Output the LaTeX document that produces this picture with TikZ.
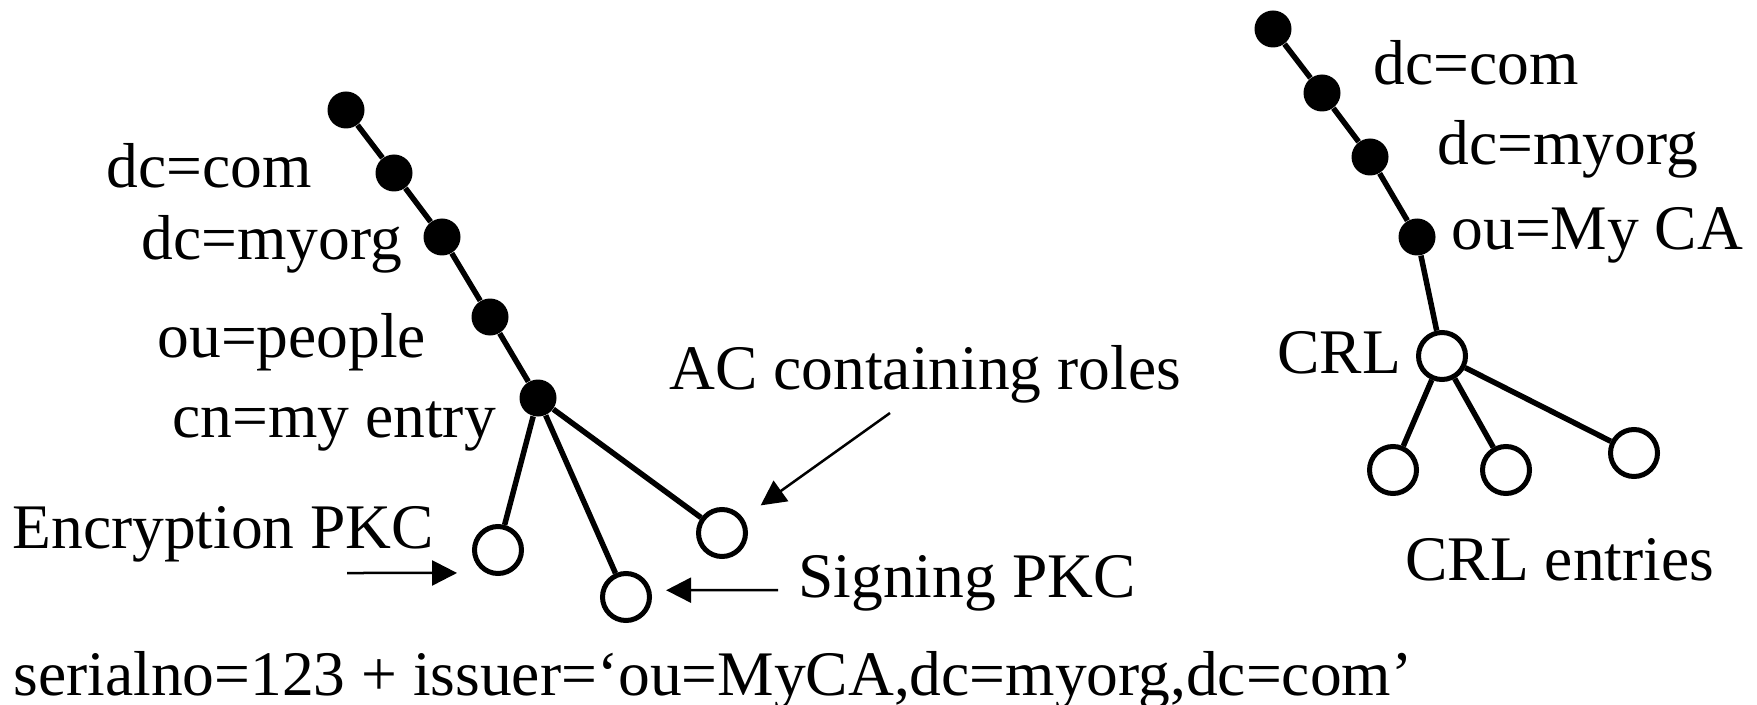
\documentclass[tikz,border=0pt]{standalone}
\usepackage{fontspec}
\setmainfont{Liberation Serif}
\usetikzlibrary{arrows.meta}

\begin{document}
\begin{tikzpicture}[x=0.4pt, y=-0.4pt,
    every node/.style={font=\fontsize{25.4}{30}\selectfont},
    entry/.style={circle, fill, inner sep=0pt, minimum size=14.8pt},
    cert/.style={circle, draw, line width=2pt, inner sep=0pt, minimum size=18.8pt},
    lbl/.style={anchor=base west, inner sep=0pt},
    branch/.style={line width=2.2pt},
    pointer/.style={-{Triangle[length=10pt, width=10pt]}, line width=1pt}]
                \useasboundingbox (0,0) rectangle (1757,705);

                % user entry tree
                \node[entry] (ucom) at (346,110) {};
                \node[entry] (uorg) at (394,173) {};
                \node[entry] (upeople) at (442,237) {};
                \node[entry] (uou) at (490,317) {};
                \node[entry] (ucn) at (538,398) {};
                \node[cert] (enc) at (498,550) {};
                \node[cert] (sign) at (626,597) {};
                \node[cert] (ac) at (722,533) {};

                \node[lbl] (tcom) at (106,188) {dc=com};
                \node[lbl] (torg) at (141,260) {dc=myorg};
                \node[lbl] (tpeople) at (157,357) {ou=people};
                \node[lbl] (tcn) at (172,437) {cn=my entry};
                \node[lbl] (tac) at (669,389) {AC containing roles};
                \node[lbl] (tenc) at (12,548) {Encryption PKC};
                \node[lbl] (tsign) at (798,597) {Signing PKC};
                \node[lbl] (tserial) at (13,695) {serialno=123 + issuer=‘ou=MyCA,dc=myorg,dc=com’};

                \draw[branch] (ucom) -- (uorg) -- (upeople) -- (uou) -- (ucn);
                \draw[branch] (ucn) -- (enc);
                \draw[branch] (ucn) -- (sign);
                \draw[branch] (ucn) -- (ac);

                \coordinate (enctail) at (347,573);
                \coordinate (signtail) at (778,590);
                \coordinate (actail) at (890,413);
                \draw[pointer, shorten >=11.5pt] (enctail) -- (enc.242);
                \draw[pointer, shorten >=6pt] (signtail) -- (sign.15);
                \draw[pointer, shorten >=8.6pt] (actail) -- (ac);

                % CA tree
                \node[entry] (ccom) at (1273,29) {};
                \node[entry] (corg) at (1322,93) {};
                \node[entry] (cpeople) at (1370,157) {};
                \node[entry] (cca) at (1417,237) {};
                \node[cert] (crl) at (1442,356) {};
                \node[cert] (rev1) at (1393,470) {};
                \node[cert] (rev2) at (1506,470) {};
                \node[cert] (rev3) at (1634,453) {};

                \node[lbl] (rcom) at (1373,85) {dc=com};
                \node[lbl] (rorg) at (1437,165) {dc=myorg};
                \node[lbl] (rca) at (1451,250) {ou=My CA};
                \node[lbl] (tcrl) at (1277,373) {CRL};
                \node[lbl] (trev) at (1405,580) {CRL entries};

                \draw[branch] (ccom) -- (corg) -- (cpeople) -- (cca) -- (crl);
                \draw[branch] (crl) -- (rev1);
                \draw[branch] (crl) -- (rev2);
                \draw[branch] (crl) -- (rev3);
            \end{tikzpicture}
\end{document}
